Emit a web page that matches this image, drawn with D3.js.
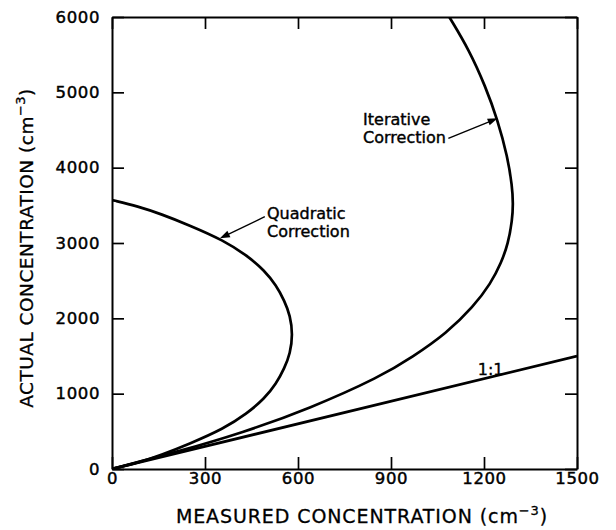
<!DOCTYPE html>
<html><head><meta charset="utf-8">
<script src="https://cdn.jsdelivr.net/npm/d3@7"></script>
<style>
body{margin:0;background:#fff;}
svg{display:block;}
text{font-family:"DejaVu Sans",sans-serif;fill:#000;}
</style></head>
<body><svg id="c" width="616" height="530"></svg>
<script>
// ---- data (measured, actual) ----
const xTicks = [0, 300, 600, 900, 1200, 1500];
const yTicks = [0, 1000, 2000, 3000, 4000, 5000, 6000];
const oneToOne = [[0, 0], [1500, 1500]];
const quadratic = [[0,0],[85,85],[158,185],[250,335],[360,535],[435,735],[492,935],[530,1135],[556,1335],[575,1535],[583,1785],[575,2035],[556,2235],[530,2435],[492,2635],[435,2835],[360,3035],[250,3235],[158,3385],[85,3485],[0,3571]];
const iterative = [[0,0],[209,225],[420,480],[639,805],[866,1225],[971,1491],[1079,1801],[1166,2155],[1222,2465],[1255,2731],[1278,2996],[1291,3300],[1294,3520],[1291,3750],[1276,4146],[1244,4633],[1205,5075],[1152,5562],[1088,6000]];
const labels = {x: "MEASURED CONCENTRATION", y: "ACTUAL CONCENTRATION", unit: "(cm", sup: "−3", close: ")"};

const svg = d3.select("#c");
const x = d3.scaleLinear().domain([0, 1500]).range([112, 577]);
const y = d3.scaleLinear().domain([0, 6000]).range([469, 17]);

function styleAxis(g){
  g.select(".domain").attr("stroke-width", 2);
  g.selectAll(".tick line").attr("stroke-width", 1.7);
  g.selectAll(".tick text").style("font-family", '"DejaVu Sans",sans-serif').attr("font-size", 16.5)
    .attr("letter-spacing", 0.6).attr("fill", "#000").attr("stroke", "#000").attr("stroke-width", 0.45);
}
svg.append("g").attr("transform", `translate(0,${y(0)})`)
  .call(d3.axisBottom(x).tickValues(xTicks).tickSizeInner(-12).tickSizeOuter(0).tickPadding(3).tickFormat(d3.format("d")))
  .call(styleAxis);
svg.append("g").attr("transform", `translate(${x(0)},0)`)
  .call(d3.axisLeft(y).tickValues(yTicks).tickSizeInner(-12).tickSizeOuter(0).tickPadding(12).tickFormat(d3.format("d")))
  .call(styleAxis);
svg.append("g").attr("transform", `translate(0,${y(6000)})`)
  .call(d3.axisTop(x).tickValues(xTicks).tickSizeInner(-12).tickSizeOuter(0).tickFormat(""))
  .call(styleAxis);
svg.append("g").attr("transform", `translate(${x(1500)},0)`)
  .call(d3.axisRight(y).tickValues(yTicks).tickSizeInner(-12).tickSizeOuter(0).tickFormat(""))
  .call(styleAxis);

const line = d3.line().x(d => x(d[0])).y(d => y(d[1])).curve(d3.curveBasis);
svg.append("clipPath").attr("id", "pc").append("rect")
  .attr("x", x(0)).attr("y", y(6000)).attr("width", x(1500) - x(0)).attr("height", y(0) - y(6000));
[oneToOne, quadratic, iterative].forEach(s => {
  svg.append("path").datum(s).attr("d", line).attr("fill", "none")
    .attr("stroke", "#000").attr("stroke-width", 2.7).attr("stroke-linejoin", "round")
    .attr("clip-path", "url(#pc)");
});

// annotations
function arrow(x1, y1, x2, y2){
  const a = Math.atan2(y2 - y1, x2 - x1), L = 10, W = 3.5;
  svg.append("line").attr("x1", x1).attr("y1", y1).attr("x2", x2 - Math.cos(a) * L * 0.8).attr("y2", y2 - Math.sin(a) * L * 0.8)
    .attr("stroke", "#000").attr("stroke-width", 1.4);
  const bx = x2 - Math.cos(a) * L, by = y2 - Math.sin(a) * L;
  svg.append("path").attr("d", `M${x2},${y2}L${bx - Math.sin(a) * W},${by + Math.cos(a) * W}L${bx + Math.sin(a) * W},${by - Math.cos(a) * W}Z`).attr("fill", "#000");
}
function label(lines, xx, yy){
  lines.forEach((t, i) => svg.append("text").attr("x", xx).attr("y", yy + i * 18)
    .attr("font-size", 16).attr("stroke", "#000").attr("stroke-width", 0.4).text(t));
}
label(["Quadratic", "Correction"], x(500), y(3320));
arrow(x(493), y(3349), x(348), y(3062));
label(["Iterative", "Correction"], x(810), y(4570));
arrow(x(1085), y(4390), x(1244), y(4655));
svg.append("text").attr("x", x(1180)).attr("y", y(1250)).attr("font-size", 16).attr("stroke", "#000").attr("stroke-width", 0.35).text("1:1");

// axis titles
const xt = svg.append("text").attr("x", 362).attr("y", 523).attr("text-anchor", "middle").attr("font-size", 19)
  .attr("letter-spacing", 0.9).attr("stroke", "#000").attr("stroke-width", 0.3);
xt.append("tspan").text(labels.x + " " + labels.unit);
xt.append("tspan").attr("dy", -8).attr("font-size", 13).text(labels.sup);
xt.append("tspan").attr("dy", 8).text(labels.close);
const yt = svg.append("text").attr("transform", "translate(33,248) rotate(-90)").attr("text-anchor", "middle").attr("font-size", 18.5)
  .attr("letter-spacing", 0.5).attr("stroke", "#000").attr("stroke-width", 0.3);
yt.append("tspan").text(labels.y + " " + labels.unit);
yt.append("tspan").attr("dy", -8).attr("font-size", 13).text(labels.sup);
yt.append("tspan").attr("dy", 8).text(labels.close);
</script></body></html>
